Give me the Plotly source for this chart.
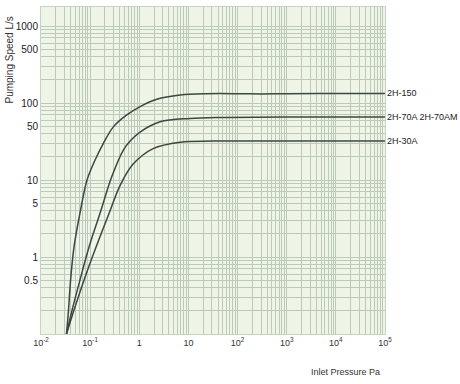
import math
import plotly.graph_objects as go

# Inlet pressure (Pa) and pumping speed (L/s)
p_150 = [0.033, 0.036, 0.040, 0.047, 0.062, 0.0865, 0.126, 0.186, 0.297, 0.556, 1.04, 2.27, 6.8, 23.7, 113, 300, 1000, 10000, 100000]
s_150 = [0.1, 0.19, 0.50, 1.35, 3.7, 10, 18.2, 30, 49, 70, 90, 112, 127, 132, 132, 131, 132, 133, 133]

p_70 = [0.033, 0.043, 0.062, 0.095, 0.159, 0.275, 0.474, 0.68, 1.04, 2.65, 10.8, 51, 1000, 100000]
s_70 = [0.1, 0.205, 0.50, 1.35, 3.7, 11, 24.5, 33, 42, 57, 63, 65, 66, 66]

p_30 = [0.033, 0.047, 0.075, 0.132, 0.243, 0.41, 0.75, 1.91, 6.8, 32, 1000, 100000]
s_30 = [0.1, 0.205, 0.50, 1.35, 3.7, 8.6, 16.1, 25.6, 31, 32, 32, 32]

series_names = ["2H-150", "2H-70A 2H-70AM", "2H-30A"]

x_tickvals = [0.01, 0.1, 1, 10, 100, 1000, 10000, 100000]
x_ticktext = ["10<sup>-2</sup>", "10<sup>-1</sup>", "1", "10", "10<sup>2</sup>",
              "10<sup>3</sup>", "10<sup>4</sup>", "10<sup>5</sup>"]
y_tickvals = [0.5, 1, 5, 10, 50, 100, 500, 1000]
y_ticktext = ["0.5", "1", "5", "10", "50", "100", "500", "1000"]

FONT = "Liberation Sans, Arial, sans-serif"
LINE = "#3b4740"
GRID = "#bccabc"

fig = go.Figure()
for px_, sy, name in [(p_150, s_150, series_names[0]),
                      (p_70, s_70, series_names[1]),
                      (p_30, s_30, series_names[2])]:
    fig.add_trace(go.Scatter(x=px_, y=sy, mode="lines", name=name,
                             line=dict(color=LINE, width=1.5, shape="spline", smoothing=1.0),
                             showlegend=False, hoverinfo="skip"))
    fig.add_annotation(x=5, y=math.log10(sy[-1]), xref="x", yref="y",
                       text=name, showarrow=False, xanchor="left", xshift=0,
                       font=dict(family=FONT, size=9, color="#222"))

fig.update_layout(
    width=460, height=384,
    margin=dict(l=41, r=75, t=7, b=50),
    paper_bgcolor="white",
    plot_bgcolor="#eef5e6",
    font=dict(family=FONT, size=10, color="#222"),
    xaxis=dict(type="log", range=[-2, 5], tickvals=x_tickvals, ticktext=x_ticktext,
               showgrid=True, gridcolor=GRID, gridwidth=1,
               minor=dict(showgrid=True, gridcolor=GRID, gridwidth=1, dtick="D1", ticks=""),
               ticks="", showline=True, linecolor="#c6d2c6", mirror=True, zeroline=False,
               tickfont=dict(size=9, family=FONT, color="#333")),
    yaxis=dict(type="log", range=[-1, 3.247], tickvals=y_tickvals, ticktext=y_ticktext,
               showgrid=True, gridcolor=GRID, gridwidth=1,
               minor=dict(showgrid=True, gridcolor=GRID, gridwidth=1, dtick="D1", ticks=""),
               ticks="", showline=True, linecolor="#c6d2c6", mirror=True, zeroline=False,
               tickfont=dict(size=10, family=FONT, color="#222")),
)

fig.add_annotation(x=0, y=1, xref="paper", yref="paper", xanchor="center", yanchor="top",
                   xshift=-32, yshift=-8, text="Pumping Speed L/s", textangle=-90, showarrow=False,
                   font=dict(family=FONT, size=10, color="#333"))
fig.add_annotation(x=1, y=0, xref="paper", yref="paper", xanchor="right", yanchor="middle",
                   text="Inlet Pressure Pa", showarrow=False, yshift=-38, xshift=-3,
                   font=dict(family=FONT, size=9, color="#333"))

fig.write_html("out.html", config={"displayModeBar": False},
               post_script="document.body.style.margin='0';document.body.style.padding='0';")
